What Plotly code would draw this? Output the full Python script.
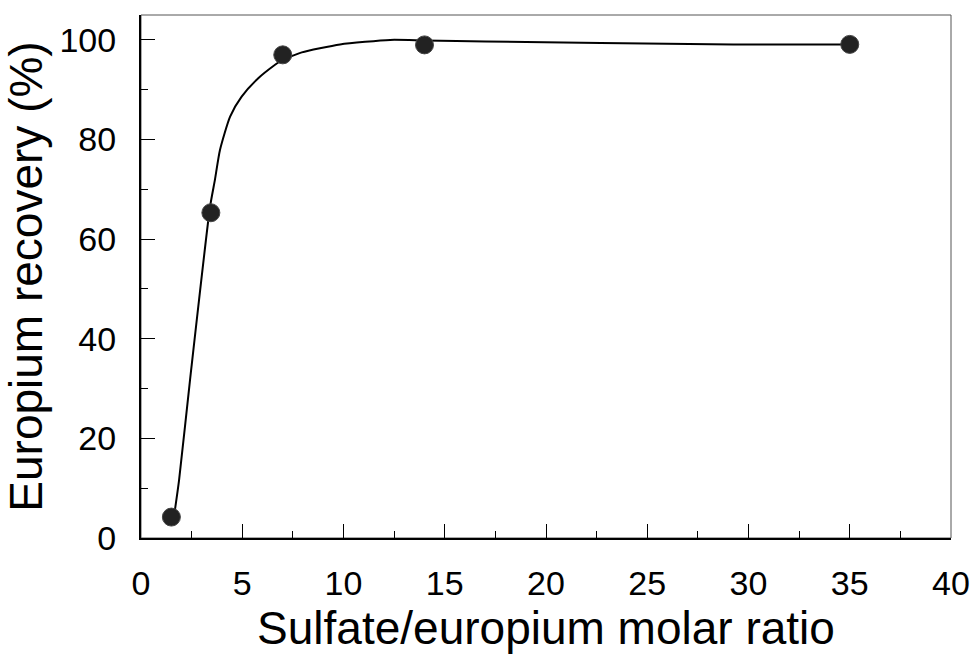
import plotly.graph_objects as go

# Measured europium recovery versus sulfate/europium molar ratio
ratio = [1.5, 3.45, 7.0, 14.0, 35.0]
recovery = [4.2, 65.3, 97.0, 99.0, 99.1]

# Trend curve drawn through the data
curve_x = [1.6, 1.88, 2.42, 3.41, 3.65, 3.90, 4.40, 4.97, 5.79, 6.62, 6.98,
           7.36, 7.94, 9.83, 12.3, 14.0, 17.0, 22.7, 29.25, 35.0]
curve_y = [3.5, 11.6, 31.7, 66.5, 71.9, 77.9, 84.6, 88.6, 92.3, 95.0, 96.0,
           96.6, 97.5, 99.1, 100.0, 99.9, 99.7, 99.4, 99.1, 99.1]

x_ticks = [0, 5, 10, 15, 20, 25, 30, 35, 40]
y_ticks = [0, 20, 40, 60, 80, 100]

FONT = "Liberation Sans, Arial, sans-serif"

fig = go.Figure()
fig.add_trace(go.Scatter(
    x=curve_x, y=curve_y, mode="lines",
    line=dict(color="black", width=2, shape="spline", smoothing=0.6),
    hoverinfo="skip", showlegend=False,
))
fig.add_trace(go.Scatter(
    x=ratio, y=recovery, mode="markers",
    marker=dict(size=18, color="#222222", line=dict(color="#444444", width=1)),
    showlegend=False,
))

fig.update_layout(
    width=973, height=654,
    margin=dict(l=141, r=22, t=15, b=116),
    paper_bgcolor="white", plot_bgcolor="white",
    font=dict(family=FONT, color="black"),
    shapes=[dict(type="rect", xref="paper", yref="paper", x0=0, y0=0, x1=1, y1=1,
                 line=dict(color="#555555", width=1), layer="below")],
)
fig.update_xaxes(
    range=[0, 40], tickvals=x_ticks, ticktext=[str(v) for v in x_ticks],
    showgrid=False, zeroline=False,
    showline=True, linecolor="black", linewidth=2,
    ticks="inside", ticklen=14, tickwidth=1, tickcolor="black",
    minor=dict(ticks="inside", ticklen=7, tickwidth=1, tickcolor="black", dtick=2.5, showgrid=False),
    tickfont=dict(size=34, family=FONT), ticklabelstandoff=14,
    title=dict(text="Sulfate/europium molar ratio", font=dict(size=46, family=FONT), standoff=25),
    automargin=False,
)
fig.update_yaxes(
    range=[0, 105], tickvals=y_ticks, ticktext=[str(v) for v in y_ticks],
    showgrid=False, zeroline=False,
    showline=True, linecolor="black", linewidth=2,
    ticks="inside", ticklen=14, tickwidth=1, tickcolor="black",
    minor=dict(ticks="inside", ticklen=7, tickwidth=1, tickcolor="black", dtick=10, showgrid=False),
    tickfont=dict(size=34, family=FONT), ticklabelstandoff=16,
    title=dict(text="Europium recovery (%)", font=dict(size=46, family=FONT), standoff=12),
    automargin=False,
)

fig.write_html("out.html")
